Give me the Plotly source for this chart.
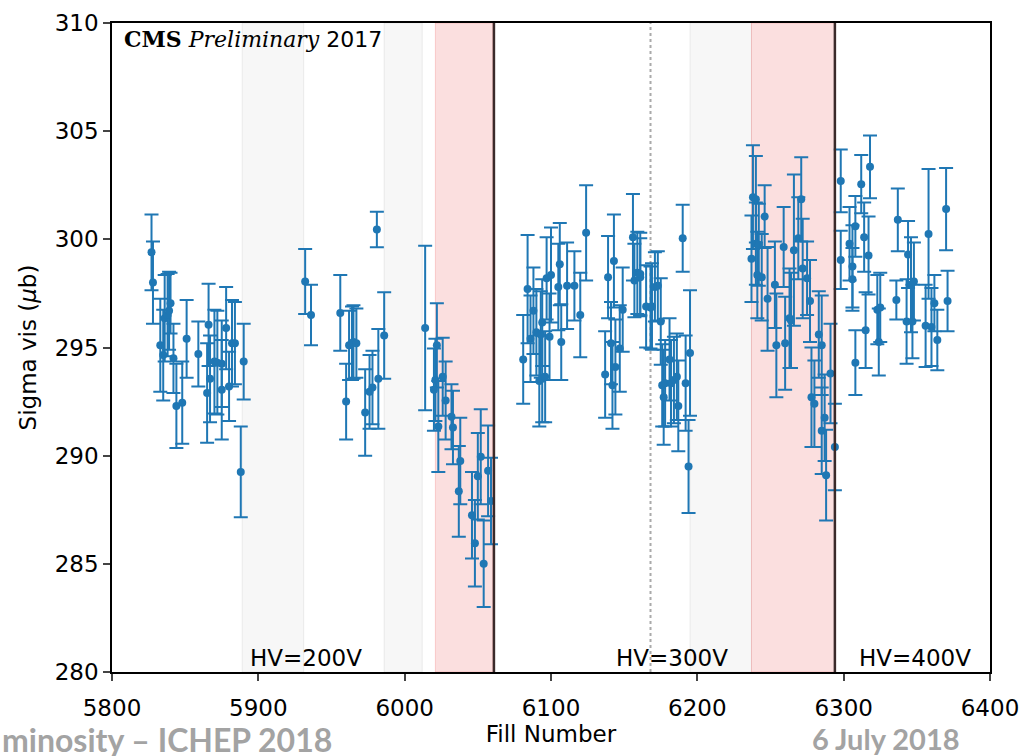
import plotly.graph_objects as go

fill = [5827, 5828, 5833, 5835, 5836, 5838, 5839, 5840, 5842, 5844, 5848, 5851, 5859, 5865, 5866, 5867,
        5870, 5872, 5875, 5875, 5878, 5880, 5882, 5884, 5888, 5890,
        5932, 5936, 5956, 5960, 5962, 5964, 5965, 5967, 5973, 5976, 5978, 5981, 5982, 5986, 6014,
        6022, 6021, 6020, 6026, 6023, 6028, 6032, 6033, 6038, 6037, 6046, 6048, 6050, 6052, 6054, 6057, 6059,
        6081, 6084, 6086, 6088, 6090, 6092, 6093, 6094, 6094, 6096, 6097, 6099, 6100, 6105, 6106, 6107,
        6111, 6116, 6120, 6124, 6137, 6139, 6141, 6142, 6143, 6144, 6147, 6149,
        6156, 6157, 6159, 6161, 6161, 6165, 6168, 6169, 6171, 6173, 6175, 6176, 6177, 6178, 6181, 6182,
        6184, 6186, 6187, 6190, 6192, 6194, 6195,
        6237, 6238, 6240, 6240, 6241, 6242, 6244, 6246, 6248, 6253, 6254, 6259, 6260, 6263, 6264, 6266,
        6269, 6271, 6272, 6275, 6277, 6278, 6280, 6283, 6285, 6285, 6287, 6288, 6291, 6294,
        6298, 6298, 6304, 6306, 6306, 6308, 6308, 6312, 6314, 6315, 6317, 6318, 6323, 6324, 6325,
        6336, 6337, 6343, 6344, 6346, 6347, 6348, 6356, 6358, 6360, 6362, 6364, 6370, 6371]

sigma = [299.4, 298.0, 295.1, 294.65, 296.35, 296.5, 296.7, 297.05, 294.5, 292.3, 292.45, 295.4, 294.7, 292.9, 296.05, 293.55,
         294.35, 294.3, 294.25, 293.05, 295.9, 293.2, 295.2, 295.2, 289.25, 294.35,
         298.05, 296.5, 296.6, 292.5, 295.1, 295.2, 295.25, 295.2, 292.0, 292.95, 293.15, 300.45, 293.55, 295.55, 295.9,
         295.1, 293.5, 293.05, 293.65, 291.35, 292.55, 291.8, 291.3, 289.75, 288.35, 287.25, 285.95, 289.05, 289.95, 285.0, 289.3, 287.9,
         294.45, 297.7, 295.4, 296.7, 295.7, 293.45, 295.6, 296.15, 293.55, 293.65, 298.2, 295.5, 298.35, 297.8, 298.85, 295.25,
         297.85, 297.85, 296.5, 300.3, 293.75, 298.25, 295.2, 293.25, 299.0, 294.1, 294.95, 296.75,
         300.1, 298.1, 298.45, 298.25, 298.4, 296.9, 296.85, 296.9, 297.8, 297.85, 296.2, 293.25, 292.7, 293.35, 294.45, 293.35,
         293.5, 293.65, 292.3, 300.05, 293.35, 289.5, 294.75,
         299.1, 301.95, 301.85, 299.8, 298.35, 299.75, 298.25, 301.05, 297.25, 297.9, 295.1, 299.65, 295.2, 296.35, 296.25, 299.5,
         300.05, 301.85, 298.65, 298.2, 297.15, 292.7, 292.4, 295.6, 295.1, 291.15, 291.75, 289.1, 293.8, 290.4,
         302.7, 299.05, 299.8, 298.75, 298.15, 294.3, 300.6, 302.55, 300.1, 295.8, 299.25, 303.35, 296.75, 295.25, 296.85,
         297.2, 300.9, 296.2, 299.3, 297.9, 296.2, 298.05, 296.0, 300.25, 295.95, 297.05, 295.35, 301.4, 297.15]

sigma_err = [1.75, 1.9, 2.15, 2.1, 2.0, 1.9, 1.8, 1.4, 1.6, 1.95, 1.9, 1.8, 1.5, 2.3, 1.9, 2.0,
             2.4, 2.4, 2.0, 2.3, 1.9, 1.6, 2.0, 1.9, 2.1, 1.75,
             1.5, 1.4, 1.75, 1.75, 1.6, 1.7, 1.7, 1.6, 2.0, 1.7, 1.7, 0.82, 2.3, 2.0, 3.8,
             1.95, 1.9, 1.9, 1.8, 2.1, 1.8, 1.5, 1.7, 2.0, 2.1, 2.0, 2.0, 2.0, 2.2, 2.0, 2.1, 2.0,
             2.05, 2.5, 2.0, 2.0, 2.0, 2.1, 2.0, 2.0, 2.0, 2.1, 1.9, 2.0, 2.2, 2.0, 1.9, 1.75,
             2.0, 1.6, 1.95, 2.2, 2.0, 1.9, 1.9, 2.0, 2.15, 2.2, 2.0, 1.95,
             2.0, 1.7, 1.9, 1.8, 1.9, 1.9, 1.9, 2.0, 1.6, 1.6, 2.0, 1.9, 2.2, 2.0, 1.9, 2.0,
             2.0, 2.0, 2.1, 1.55, 2.2, 2.15, 2.9,
             2.0, 2.4, 2.0, 1.9, 2.0, 1.9, 2.0, 1.45, 2.4, 2.0, 2.4, 1.85, 2.15, 2.3, 2.2, 3.5,
             1.9, 1.95, 2.3, 1.7, 1.9, 2.3, 2.0, 2.0, 2.3, 2.0, 2.0, 2.1, 2.3, 2.0,
             1.45, 1.35, 1.7, 1.9, 1.45, 1.5, 1.4, 1.35, 1.6, 1.75, 1.8, 1.45, 1.6, 1.55, 1.6,
             0.9, 1.45, 1.95, 1.55, 2.2, 1.7, 1.8, 1.9, 3.0, 1.8, 1.3, 1.4, 1.9, 1.4]

x_ticks = [5800, 5900, 6000, 6100, 6200, 6300, 6400]
y_ticks = [280, 285, 290, 295, 300, 305, 310]

grey_bands = [(5889, 5931), (5986, 6012), (6195, 6237)]
pink_bands = [(6021, 6060), (6237, 6294)]
hv_lines = [6061, 6294]
dashed_line = 6168
hv_labels = [("HV=200V", 5893), ("HV=300V", 6143), ("HV=400V", 6309)]

BLUE = "#1f77b4"

fig = go.Figure()
fig.add_trace(go.Scatter(
    x=fill, y=sigma, mode="markers",
    marker=dict(color=BLUE, size=8),
    error_y=dict(type="data", array=sigma_err, visible=True, color=BLUE, thickness=2, width=7),
    showlegend=False,
))

shapes = []
for x0, x1 in grey_bands:
    shapes.append(dict(type="rect", xref="x", yref="paper", x0=x0, x1=x1, y0=0, y1=1,
                       fillcolor="rgba(200,200,200,0.15)", line=dict(color="rgba(200,200,200,0.3)", width=1),
                       layer="below"))
for x0, x1 in pink_bands:
    shapes.append(dict(type="rect", xref="x", yref="paper", x0=x0, x1=x1, y0=0, y1=1,
                       fillcolor="rgba(240,128,128,0.25)", line=dict(color="rgba(240,128,128,0.35)", width=1),
                       layer="below"))
for xv in hv_lines:
    shapes.append(dict(type="line", xref="x", yref="paper", x0=xv, x1=xv, y0=0, y1=1,
                       line=dict(color="#3a2a2a", width=2.5), layer="above"))
shapes.append(dict(type="line", xref="x", yref="paper", x0=dashed_line, x1=dashed_line, y0=0, y1=1,
                   line=dict(color="#aaaaaa", width=2, dash="dot"), layer="below"))

annotations = []
for txt, xv in hv_labels:
    annotations.append(dict(x=xv, y=280.65, xref="x", yref="y", text=txt, showarrow=False,
                            xanchor="left", yanchor="middle",
                            font=dict(family="DejaVu Sans", size=23, color="black")))
annotations.append(dict(
    x=0.011, y=0.975, xref="paper", yref="paper", xanchor="left", yanchor="middle", showarrow=False,
    text="<span style='font-family:DejaVu Serif'><b>CMS</b> <i>Preliminary</i></span> 2017",
    font=dict(family="DejaVu Sans", size=22, color="black")))
annotations.append(dict(x=-0.1276, xref="paper", y=-0.104, yref="paper", xanchor="left", yanchor="middle",
                        showarrow=False, text="<b>minosity – ICHEP 2018</b>",
                        font=dict(family="Lato", size=32, color="#a3a3a3")))
annotations.append(dict(x=0.8815, xref="paper", y=-0.102, yref="paper", xanchor="center", yanchor="middle",
                        showarrow=False, text="<b>6 July 2018</b>",
                        font=dict(family="Lato", size=29, color="#a3a3a3")))

fig.update_layout(
    width=1024, height=756,
    margin=dict(l=112, r=34, t=23, b=84),
    paper_bgcolor="white", plot_bgcolor="white",
    shapes=shapes, annotations=annotations,
    font=dict(family="DejaVu Sans", size=23, color="black"),
)
fig.update_xaxes(range=[5800, 6400], tickvals=x_ticks, ticks="outside", ticklen=7, tickwidth=1.5,
                 ticklabelstandoff=8, automargin=False,
                 showline=True, linecolor="black", linewidth=1.5, mirror=True, showgrid=False, zeroline=False,
                 title=dict(text="Fill Number", standoff=1, font=dict(size=23)),
                 tickfont=dict(size=23))
fig.update_yaxes(range=[280, 310], tickvals=y_ticks, ticks="outside", ticklen=7, tickwidth=1.5,
                 automargin=False,
                 showline=True, linecolor="black", linewidth=1.5, mirror=True, showgrid=False, zeroline=False,
                 title=dict(text="Sigma vis (<i>μ</i>b)", standoff=12, font=dict(size=23)),
                 tickfont=dict(size=23))

fig.write_html("out.html")
